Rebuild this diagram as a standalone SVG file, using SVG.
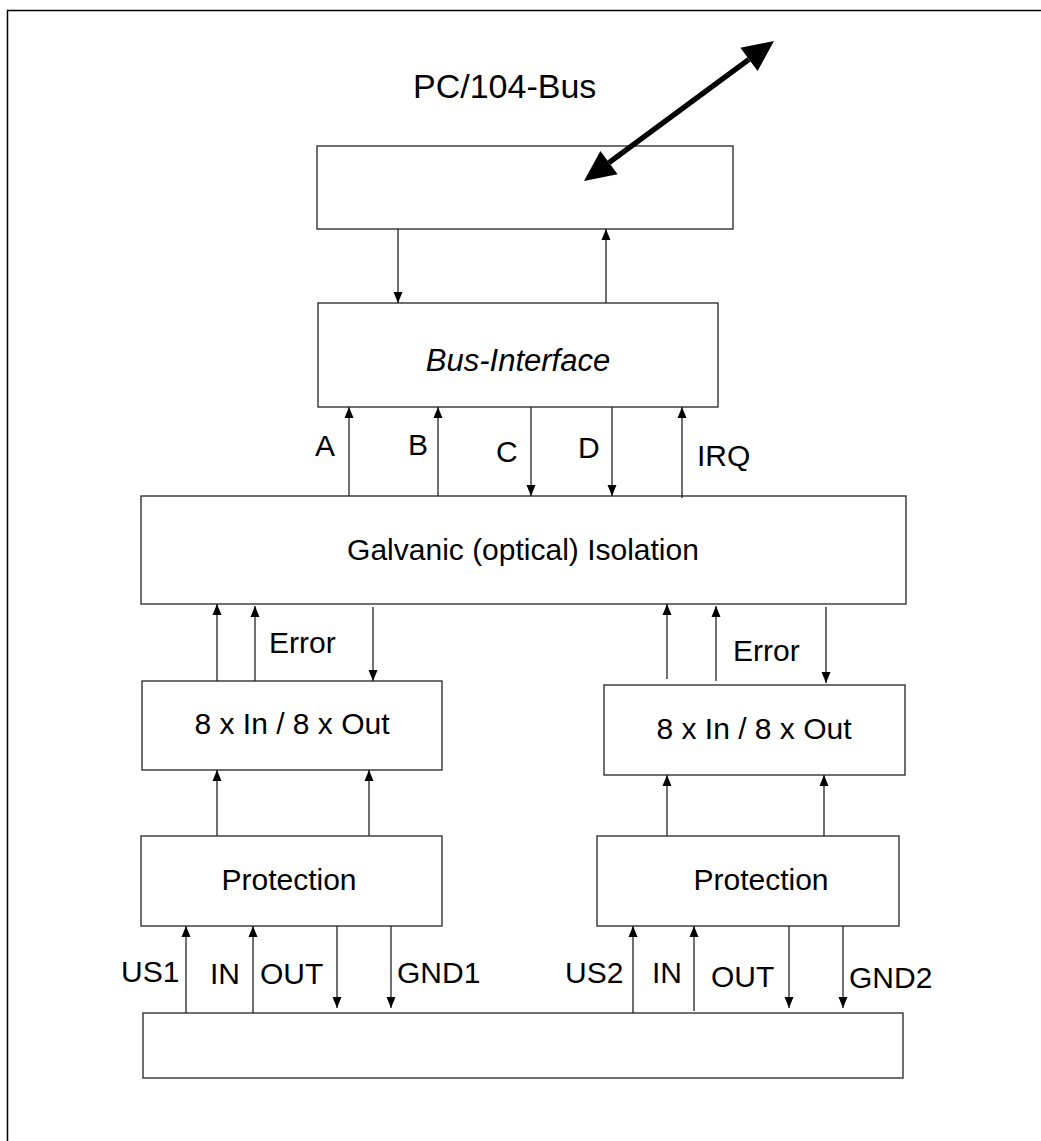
<svg xmlns="http://www.w3.org/2000/svg" width="1041" height="1141" viewBox="0 0 1041 1141">
<defs>
<style>
.box{fill:#fff;stroke:#333;stroke-width:1.4}
.c{stroke:#222;stroke-width:1.3;fill:none;marker-end:url(#ah)}
text{font-family:"Liberation Sans",Arial,sans-serif;font-size:30px;fill:#000}
.m{text-anchor:middle}
</style>
<marker id="ah" markerUnits="userSpaceOnUse" markerWidth="12" markerHeight="10" viewBox="0 0 12 10" refX="11" refY="5" orient="auto">
<path d="M0,0.5 L11,5 L0,9.5 z" fill="#000"/>
</marker>
</defs>
<rect width="1041" height="1141" fill="#fff"/>
<g id="frame"><path d="M7.5,1141 V10.5 H1041" fill="none" stroke="#000" stroke-width="1.5"/></g>
<g id="pcbus"><text x="413" y="98" style="font-size:34px">PC/104-Bus</text></g>
<g id="top-box"><rect class="box" x="317" y="146" width="416" height="83"/></g>
<g id="bus-interface"><rect class="box" x="318" y="303" width="400" height="104"/><text class="m" x="518" y="371" style="font-style:italic;font-size:31px">Bus-Interface</text></g>
<g id="isolation"><rect class="box" x="141" y="496" width="765" height="108"/><text class="m" x="523" y="560">Galvanic (optical) Isolation</text></g>
<g id="io1"><rect class="box" x="142" y="681" width="300" height="89"/><text class="m" x="292" y="734">8 x In / 8 x Out</text></g>
<g id="io2"><rect class="box" x="604" y="685" width="301" height="90"/><text class="m" x="754" y="739">8 x In / 8 x Out</text></g>
<g id="prot1"><rect class="box" x="141" y="836" width="301" height="90"/><text class="m" x="289" y="890">Protection</text></g>
<g id="prot2"><rect class="box" x="597" y="836" width="302" height="90"/><text class="m" x="761" y="890">Protection</text></g>
<g id="connector-bar"><rect class="box" x="143" y="1013" width="760" height="65"/></g>
<g id="connectors">
<path d="M749,59.4 L609,162.6" stroke="#000" stroke-width="5.5"/>
<polygon points="774,41 757.6,71.1 740.4,47.7" fill="#000"/>
<polygon points="584,181 600.4,150.9 617.6,174.3" fill="#000"/>
<line class="c" x1="398" y1="229" x2="398" y2="303"/>
<line class="c" x1="606" y1="303" x2="606" y2="229"/>
<line class="c" x1="349" y1="496" x2="349" y2="407"/>
<line class="c" x1="438" y1="496" x2="438" y2="407"/>
<line class="c" x1="531" y1="407" x2="531" y2="496"/>
<line class="c" x1="612" y1="407" x2="612" y2="496"/>
<line class="c" x1="682" y1="498" x2="682" y2="407"/>
<line class="c" x1="217" y1="681" x2="217" y2="604"/>
<line class="c" x1="255" y1="681" x2="255" y2="606"/>
<line class="c" x1="373" y1="607" x2="373" y2="681"/>
<line class="c" x1="667" y1="679" x2="667" y2="604"/>
<line class="c" x1="716" y1="681" x2="716" y2="606"/>
<line class="c" x1="826" y1="607" x2="826" y2="683"/>
<line class="c" x1="217" y1="836" x2="217" y2="770"/>
<line class="c" x1="369" y1="836" x2="369" y2="770"/>
<line class="c" x1="667" y1="836" x2="667" y2="775"/>
<line class="c" x1="824" y1="836" x2="824" y2="775"/>
<line class="c" x1="186" y1="1013" x2="186" y2="926"/>
<line class="c" x1="253" y1="1013" x2="253" y2="926"/>
<line class="c" x1="337" y1="926" x2="337" y2="1008"/>
<line class="c" x1="391" y1="926" x2="391" y2="1008"/>
<line class="c" x1="633" y1="1013" x2="633" y2="926"/>
<line class="c" x1="694" y1="1011" x2="694" y2="926"/>
<line class="c" x1="789" y1="926" x2="789" y2="1008"/>
<line class="c" x1="843" y1="926" x2="843" y2="1008"/>
</g>
<g id="labels">
<text x="315" y="456">A</text>
<text x="408" y="455">B</text>
<text x="496" y="462">C</text>
<text x="578" y="458">D</text>
<text x="697" y="466">IRQ</text>
<text x="269" y="653">Error</text>
<text x="733" y="661">Error</text>
<text x="121" y="982">US1</text>
<text x="210" y="984">IN</text>
<text x="260" y="984">OUT</text>
<text x="397" y="983">GND1</text>
<text x="565" y="983">US2</text>
<text x="652" y="983">IN</text>
<text x="711" y="987">OUT</text>
<text x="849" y="988">GND2</text>
</g>
</svg>
